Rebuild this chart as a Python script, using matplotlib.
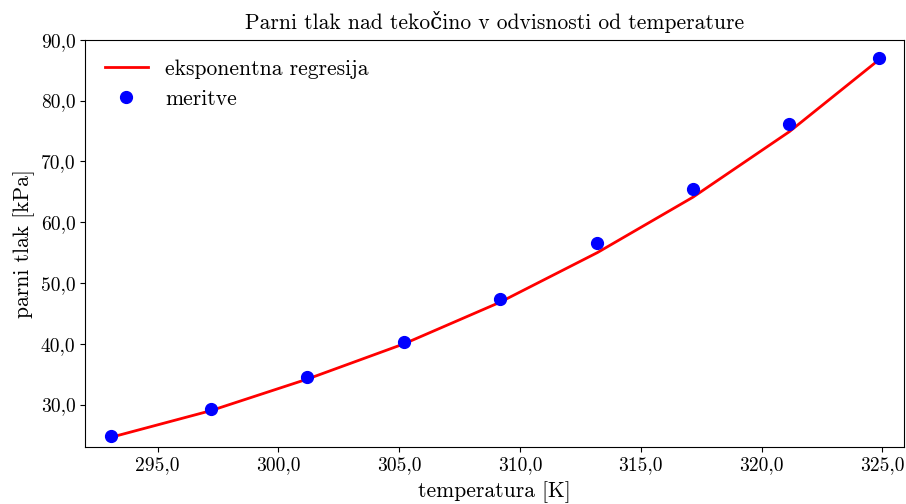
import matplotlib
matplotlib.use("Agg")
import matplotlib.pyplot as plt
from matplotlib.ticker import FuncFormatter, MultipleLocator

plt.rcParams["font.family"] = ["cmr10", "DejaVu Serif"]
plt.rcParams["mathtext.fontset"] = "cm"
plt.rcParams["axes.unicode_minus"] = False
plt.rcParams["axes.formatter.use_mathtext"] = True

# meritve
temperatura = [293.05, 297.2, 301.2, 305.2, 309.15, 313.2, 317.15, 321.15, 324.85]
tlak = [24.85, 29.35, 34.5, 40.35, 47.45, 56.5, 65.5, 76.1, 87.0]
# eksponentna regresija v istih tockah
tlak_regresija = [24.6, 29.0, 34.2, 40.0, 46.8, 55.0, 64.1, 74.9, 86.7]


def vejica(v, pos):
    return ("%.1f" % v).replace(".", ",")


fig = plt.figure(figsize=(9.06, 5.04), dpi=100)
ax = fig.add_axes([0.094, 0.114, 0.904, 0.807])

ax.plot(temperatura, tlak_regresija, color="red", lw=2, label="eksponentna regresija")
ax.plot(temperatura, tlak, "o", color="blue", ms=8.5, label="meritve")

ax.set_xlim(292.0, 325.9)
ax.set_ylim(23.1, 90.0)
ax.xaxis.set_major_locator(MultipleLocator(5))
ax.yaxis.set_major_locator(MultipleLocator(10))
ax.xaxis.set_major_formatter(FuncFormatter(vejica))
ax.yaxis.set_major_formatter(FuncFormatter(vejica))
ax.tick_params(labelsize=14)

ax.set_title("Parni tlak nad tekočino v odvisnosti od temperature", fontsize=15.5, pad=8)
ax.set_xlabel("temperatura [K]", fontsize=15.5, labelpad=5)
ax.set_ylabel("parni tlak [kPa]", fontsize=15.5)
ax.legend(loc="upper left", frameon=False, fontsize=15.5)

plt.savefig("out.png", dpi=100)
